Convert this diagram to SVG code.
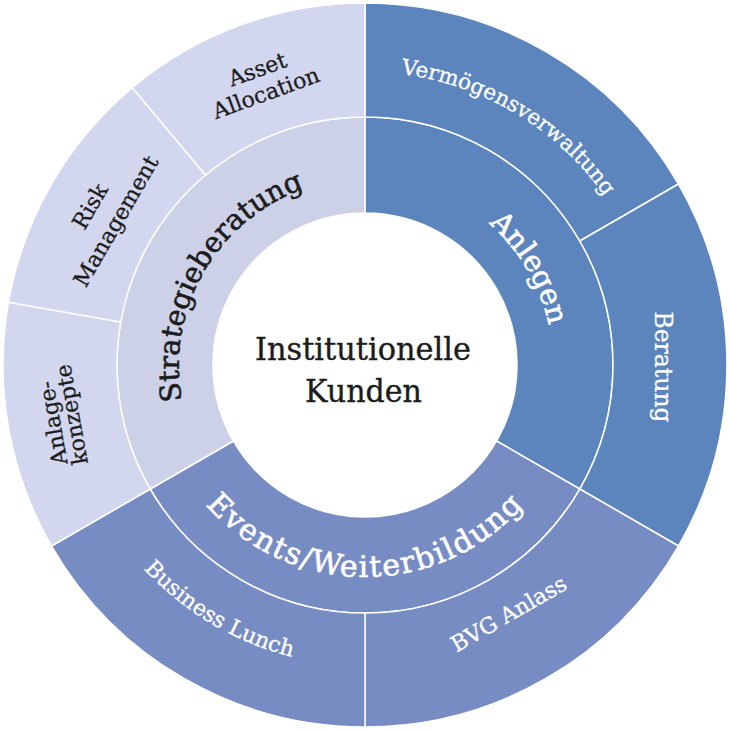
<svg xmlns="http://www.w3.org/2000/svg" width="730" height="730" viewBox="0 0 730 730">
<style>
.seg{stroke:#ffffff;stroke-width:1.5;stroke-linejoin:round}
.blue{fill:#5c85bd}
.violet{fill:#788cc4}
.lmid{fill:#cdd1e7}
.lout{fill:#d2d6ee}
text{font-family:"DejaVu Serif","Liberation Serif",serif}
.w{fill:#ffffff;stroke:#ffffff}
.d{fill:#1c1c1c;stroke:#1c1c1c}
.mid{font-size:29px;stroke-width:0.6px}
.out{font-size:22px;stroke-width:0.3px}
.ctr{font-size:32px;fill:#1c1c1c;stroke:#1c1c1c;stroke-width:0.4px}
</style>
<defs>
<path id="pVerm" d="M113.8,214.1 A293,293 0 0 1 616.2,515.9"/>
<path id="pAnl" d="M269.6,203.0 A188,188 0 0 1 460.4,527.0"/>
<path id="pStrat" d="M271,527.8 A188,188 0 0 1 459,202.2"/>
<path id="pEv" d="M153,365 A212,212 0 0 0 577,365"/>
<path id="pBus" d="M106.2,211.3 A301,301 0 0 0 623.8,518.7"/>
</defs>
<rect width="730" height="730" fill="#ffffff"/>
<g id="node-anlegen">
<path class="seg blue" d="M365,117 A248,248 0 0 1 579.78,489 L496.64,441 A152,152 0 0 0 365,213 Z"/>
<text class="mid w" text-anchor="middle"><textPath href="#pAnl" startOffset="50%">Anlegen</textPath></text>
</g>
<g id="node-events">
<path class="seg violet" d="M579.78,489 A248,248 0 0 1 150.22,489 L233.36,441 A152,152 0 0 0 496.64,441 Z"/>
<text class="mid w" text-anchor="middle" style="font-size:30px;letter-spacing:1.6px"><textPath href="#pEv" startOffset="50%">Events/Weiterbildung</textPath></text>
</g>
<g id="node-strategieberatung">
<path class="seg lmid" d="M150.22,489 A248,248 0 0 1 365,117 L365,213 A152,152 0 0 0 233.36,441 Z"/>
<text class="mid d" text-anchor="middle" style="font-size:28.5px"><textPath href="#pStrat" startOffset="50%">Strategieberatung</textPath></text>
</g>
<g id="node-vermoegensverwaltung">
<path class="seg blue" d="M365,3 A362,362 0 0 1 678.49,184 L579.78,241 A248,248 0 0 0 365,117 Z"/>
<text class="out w" text-anchor="middle" style="font-size:21.5px"><textPath href="#pVerm" startOffset="50%">Vermögensverwaltung</textPath></text>
</g>
<g id="node-beratung">
<path class="seg blue" d="M678.49,184 A362,362 0 0 1 678.49,546 L579.78,489 A248,248 0 0 0 579.78,241 Z"/>
<text class="out w" text-anchor="middle" style="font-size:23.5px" transform="translate(655,367) rotate(90)">Beratung</text>
</g>
<g id="node-bvg-anlass">
<path class="seg violet" d="M678.49,546 A362,362 0 0 1 365,727 L365,613 A248,248 0 0 0 579.78,489 Z"/>
<text class="out w" text-anchor="middle" transform="translate(512.5,620.5) rotate(-30)">BVG Anlass</text>
</g>
<g id="node-business-lunch">
<path class="seg violet" d="M365,727 A362,362 0 0 1 51.51,546 L150.22,489 A248,248 0 0 0 365,613 Z"/>
<text class="out w" text-anchor="middle"><textPath href="#pBus" startOffset="50%">Business Lunch</textPath></text>
</g>
<g id="node-anlagekonzepte">
<path class="seg lout" d="M51.51,546 A362,362 0 0 1 8.50,302.14 L120.77,321.95 A248,248 0 0 0 150.22,489 Z"/>
<g transform="translate(69.6,417.1) rotate(-100)">
<text class="out d" text-anchor="middle" x="-3" y="-10">Anlage-</text>
<text class="out d" text-anchor="middle" x="2" y="10">konzepte</text>
</g>
</g>
<g id="node-risk-management">
<path class="seg lout" d="M8.50,302.14 A362,362 0 0 1 132.31,87.70 L205.59,175.03 A248,248 0 0 0 120.77,321.95 Z"/>
<g transform="translate(109.5,217.5) rotate(-60)">
<text class="out d" text-anchor="middle" x="0" y="-15">Risk</text>
<text class="out d" text-anchor="middle" x="0" y="15">Management</text>
</g>
</g>
<g id="node-asset-allocation">
<path class="seg lout" d="M132.31,87.70 A362,362 0 0 1 365,3 L365,117 A248,248 0 0 0 205.59,175.03 Z"/>
<g transform="translate(264.1,87.8) rotate(-20)">
<text class="out d" text-anchor="middle" x="0" y="-12">Asset</text>
<text class="out d" text-anchor="middle" x="0" y="13">Allocation</text>
</g>
</g>
<g id="node-center">
<circle cx="365" cy="365" r="152" fill="#ffffff"/>
<text class="ctr" text-anchor="middle" x="363" y="360" textLength="216" lengthAdjust="spacingAndGlyphs">Institutionelle</text>
<text class="ctr" text-anchor="middle" x="363.5" y="402" textLength="117" lengthAdjust="spacingAndGlyphs">Kunden</text>
</g>
<g id="connectors"></g>
</svg>
